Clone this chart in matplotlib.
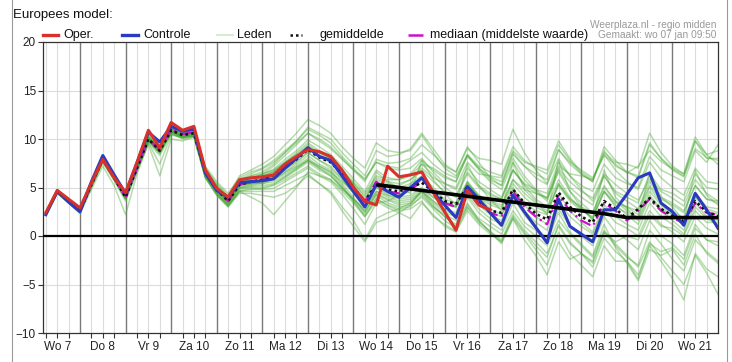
import matplotlib.pyplot as plt
import numpy as np
from matplotlib.lines import Line2D

plt.rcParams["font.family"] = ["Liberation Sans", "DejaVu Sans"]

# hours from Wo 7 00:00, one value every 6 hours
HOURS = list(range(6, 361, 6))
DAY_LABELS = ["Wo 7", "Do 8", "Vr 9", "Za 10", "Zo 11", "Ma 12", "Di 13", "Wo 14",
              "Do 15", "Vr 16", "Za 17", "Zo 18", "Ma 19", "Di 20", "Wo 21"]

# operationele run (tot +240 u)
oper = [2.4, 4.7, 3.8,
        2.9, 5.5, 7.9, 6.0,  4.5, 7.6, 10.9, 9.1,  11.7, 10.9, 11.3, 6.8,
        4.9, 4.0, 5.8, 6.0,  6.1, 6.3, 7.4, 8.2,  8.9, 8.7, 8.2, 6.8,
        5.0, 3.6, 3.2, 7.2,  6.1, 6.3, 6.6, 4.5,  2.5, 0.6, 4.7, 3.2,
        2.7]

controle = [2.2, 4.6, 3.5,
            2.5, 5.6, 8.3, 6.3,  4.4, 7.5, 10.7, 9.7,  11.3, 10.8, 11.0, 6.5,
            4.7, 4.0, 5.5, 5.6,  5.7, 5.9, 7.0, 8.0,  9.1, 8.2, 7.8, 6.2,
            4.6, 3.0, 5.3, 4.6,  4.0, 5.0, 6.0, 4.5,  3.2, 1.9, 5.1, 3.8,
            2.4, 1.1, 4.2, 2.5,  0.9, -0.7, 3.8, 1.0,  0.2, -0.6, 2.7, 2.7,
            4.3, 6.0, 6.5, 3.4,  2.5, 1.1, 4.4, 2.7,  0.8]

gemiddelde = [2.3, 4.6, 3.6,
              2.6, 5.3, 7.9, 6.0,  4.0, 7.0, 10.0, 8.8,  10.9, 10.4, 10.6, 6.5,
              4.8, 3.6, 5.3, 5.6,  5.8, 6.3, 7.1, 7.9,  8.9, 8.1, 7.6, 6.4,
              5.0, 3.6, 5.3, 4.8,  4.6, 5.0, 5.5, 4.6,  3.6, 3.3, 5.1, 3.6,
              2.6, 2.4, 4.8, 3.4,  2.3, 1.7, 4.5, 3.0,  2.0, 1.4, 3.6, 2.8,
              1.8, 2.8, 3.9, 2.8,  2.1, 1.5, 3.6, 2.5,  2.0]

mediaan = [2.3, 4.6, 3.6,
           2.6, 5.3, 7.9, 6.0,  4.0, 7.0, 10.0, 8.9,  11.0, 10.5, 10.7, 6.5,
           4.8, 3.6, 5.3, 5.6,  5.8, 6.3, 7.2, 8.1,  9.1, 8.2, 7.7, 6.4,
           4.9, 3.5, 5.6, 4.6,  4.4, 4.8, 5.6, 4.6,  3.4, 3.0, 5.0, 3.4,
           2.4, 2.0, 4.6, 3.0,  2.0, 1.2, 4.2, 2.6,  1.6, 1.0, 3.4, 2.6,
           1.6, 2.6, 3.8, 2.6,  1.9, 1.3, 3.4, 2.4,  2.2]

trend_hours = [180, 204, 228, 252, 276, 300, 312, 336, 360]
trend = [5.3, 4.7, 4.1, 3.5, 2.9, 2.3, 1.9, 1.9, 1.9]

leden = [
    [2.5, 4.8, 3.7, 2.8, 5.6, 8.2, 6.3, 4.3, 7.3, 10.3, 9.2, 11.3, 10.8, 11.0, 7.0,
     5.2, 4.1, 5.8, 6.4, 6.9, 7.6, 8.6, 9.6, 10.6, 9.8, 9.0, 7.9, 6.8, 5.9, 7.6, 7.2,
     7.0, 7.8, 8.6, 7.4, 6.5, 6.0, 8.2, 7.0, 6.1, 5.6, 8.4, 7.2, 6.4, 5.8, 8.9, 7.6,
     6.8, 6.0, 8.3, 7.4, 6.5, 7.2, 8.8, 7.7, 6.9, 6.2, 9.0, 8.1, 7.8],
    [2.1, 4.4, 3.4, 2.4, 5.0, 7.6, 5.7, 3.6, 6.6, 9.6, 8.3, 10.5, 10.1, 10.3, 6.0,
     4.2, 3.0, 4.6, 4.8, 4.9, 5.2, 5.8, 6.5, 7.2, 6.4, 5.8, 4.6, 3.4, 2.0, 3.6, 2.9,
     2.4, 1.8, 3.4, 2.2, 1.0, 0.4, 2.6, 1.2, 0.2, -0.6, 2.0, 0.4, -1.0, -2.2, 1.2, -0.6,
     -1.8, -2.8, 0.4, -1.0, -2.2, -3.0, 0.6, -0.8, -2.4, -3.6, -0.4, -1.6, -2.6],
    [2.4, 4.7, 3.7, 2.7, 5.4, 8.0, 6.1, 4.1, 7.2, 10.2, 9.0, 11.1, 10.6, 10.8, 6.7,
     5.0, 3.9, 5.6, 6.0, 6.3, 6.9, 7.9, 8.8, 9.9, 9.2, 8.4, 7.2, 5.9, 4.6, 6.8, 6.0,
     5.8, 6.2, 7.4, 6.3, 5.0, 4.2, 6.6, 5.2, 4.4, 3.8, 6.8, 5.3, 4.4, 3.9, 7.0, 5.6,
     4.6, 3.9, 6.4, 5.3, 4.4, 3.7, 5.9, 4.6, 3.9, 3.1, 5.8, 4.4, 3.6],
    [2.2, 4.5, 3.5, 2.5, 5.2, 7.7, 5.8, 3.8, 6.8, 9.8, 8.5, 10.7, 10.2, 10.3, 6.1,
     4.3, 3.1, 4.7, 4.9, 4.8, 4.9, 5.6, 6.3, 7.0, 6.2, 5.6, 4.3, 2.8, 1.2, 3.4, 3.6,
     4.2, 5.3, 7.4, 7.0, 6.2, 5.6, 8.3, 7.0, 5.8, 5.2, 8.6, 7.2, 6.0, 5.3, 8.9, 7.4,
     6.4, 5.6, 9.2, 7.8, 6.6, 6.0, 9.4, 8.0, 6.8, 6.1, 9.8, 8.4, 8.8],
    [2.3, 4.6, 3.6, 2.6, 5.3, 7.9, 6.0, 3.9, 6.9, 9.9, 8.6, 10.8, 10.2, 10.4, 6.3,
     4.6, 3.4, 5.0, 5.3, 5.5, 5.9, 6.6, 7.4, 8.3, 7.4, 6.8, 5.4, 4.0, 2.5, 4.3, 3.7,
     3.2, 3.4, 4.4, 3.0, 2.0, 1.0, 3.2, 1.8, 1.0, 0.2, 2.6, 1.0, 0.0, -1.0, 1.6, 0.2,
     -1.0, -2.2, 0.6, -0.8, -2.0, -3.2, -0.6, -2.2, -3.6, -5.0, -2.0, -3.8, -6.0],
    [2.2, 4.5, 3.4, 2.4, 5.1, 7.7, 5.9, 4.2, 7.3, 10.2, 9.1, 11.2, 10.7, 10.9, 6.9,
     5.1, 3.8, 5.4, 5.5, 5.4, 5.8, 6.4, 7.1, 7.8, 7.0, 6.2, 4.9, 3.6, 2.2, 3.9, 3.1,
     2.6, 2.8, 3.6, 2.0, 1.2, 0.5, 2.9, 1.4, 0.5, -0.4, 2.2, 0.6, -0.6, -1.8, 1.0, -0.8,
     -1.8, -3.2, -0.2, -1.6, -2.6, -4.0, -1.0, -2.6, -4.4, -6.6, -1.8, -3.4, -4.2],
    [2.4, 4.6, 3.6, 2.7, 5.3, 7.8, 5.9, 4.1, 7.1, 10.1, 8.9, 11.0, 10.5, 10.7, 6.6,
     4.9, 3.7, 5.4, 5.9, 6.4, 7.2, 8.3, 9.4, 10.6, 10.0, 9.2, 8.0, 6.8, 5.6, 7.9, 7.5,
     7.6, 8.0, 9.4, 8.4, 7.2, 6.6, 9.0, 8.0, 7.8, 7.4, 11.0, 8.6, 6.8, 5.4, 8.0, 6.2,
     4.8, 3.6, 6.2, 4.4, 3.6, 2.8, 5.6, 4.0, 3.4, 2.6, 5.2, 3.8, 3.4],
    [2.2, 4.6, 3.5, 2.6, 5.2, 7.8, 5.9, 3.9, 6.9, 9.9, 8.7, 10.8, 10.3, 10.5, 6.4,
     4.7, 3.5, 5.2, 5.4, 5.6, 6.0, 6.8, 7.6, 8.6, 7.8, 7.0, 5.8, 4.4, 3.2, 5.0, 4.4,
     4.2, 4.6, 5.8, 4.8, 3.6, 3.0, 5.4, 4.2, 3.4, 3.0, 5.8, 4.8, 4.4, 4.0, 7.2, 6.4,
     6.2, 5.8, 8.6, 7.6, 7.4, 7.0, 10.6, 8.6, 7.2, 6.4, 10.2, 8.4, 7.4],
    [2.3, 4.5, 3.5, 2.5, 5.2, 7.9, 6.1, 4.1, 7.0, 9.9, 8.7, 10.8, 10.4, 10.5, 6.2,
     4.4, 3.2, 4.9, 5.1, 5.2, 5.4, 6.0, 6.8, 7.6, 6.8, 6.2, 5.0, 3.8, 2.4, 4.2, 3.4,
     3.0, 3.2, 4.0, 2.8, 1.6, 0.8, 3.0, 1.6, 0.4, -0.6, 1.8, 0.2, -1.4, -3.0, 0.4, -1.8,
     -3.0, -4.2, -1.0, -2.6, -2.6, -4.4, -0.8, -1.6, -1.2, -2.4, 0.8, -0.4, -1.0],
    [2.4, 4.7, 3.7, 2.7, 5.4, 7.9, 6.0, 3.9, 6.8, 9.4, 6.2, 10.0, 9.8, 10.2, 6.0,
     4.6, 3.6, 5.4, 6.2, 6.4, 6.8, 7.6, 8.6, 9.6, 8.8, 8.0, 6.8, 5.4, 4.0, 5.8, 5.4,
     5.0, 5.4, 6.2, 5.0, 3.8, 3.4, 5.6, 4.0, 2.8, 2.2, 5.0, 3.2, 2.0, 1.2, 4.4, 2.6,
     1.4, 0.4, 3.2, 2.0, 1.2, 0.6, 3.4, 2.0, 1.2, 0.2, 3.0, 1.8, 1.2],
    [2.2, 4.4, 3.4, 2.3, 4.8, 7.2, 5.2, 2.2, 6.4, 9.6, 7.4, 10.4, 10.2, 10.8, 7.2,
     5.6, 4.4, 6.0, 6.6, 7.0, 7.8, 8.8, 9.8, 11.0, 10.4, 9.6, 8.2, 7.0, 5.8, 7.6, 7.0,
     6.8, 7.0, 8.0, 6.6, 5.4, 4.8, 7.0, 5.6, 4.8, 4.0, 6.8, 5.2, 3.8, 3.0, 5.8, 4.0,
     2.8, 1.8, 4.6, 3.0, 2.4, 1.6, 4.2, 2.8, 2.2, 1.2, 4.0, 2.6, 2.2],
    [2.3, 4.6, 3.6, 2.6, 5.3, 7.9, 6.0, 4.0, 7.0, 10.0, 8.8, 10.6, 10.0, 10.2, 6.0,
     4.2, 3.0, 4.4, 4.4, 4.2, 4.0, 4.4, 5.2, 6.2, 5.4, 4.6, 3.0, 1.6, -0.4, 1.8, 2.4,
     2.8, 3.4, 4.6, 3.6, 2.6, 2.2, 4.6, 3.2, 2.4, 2.0, 4.8, 3.4, 2.6, 2.2, 5.4, 3.8,
     3.0, 2.4, 5.0, 3.6, 2.6, 1.8, 4.6, 3.2, 2.2, 1.4, 4.2, 2.8, 2.4],
    [2.3, 4.6, 3.6, 2.6, 5.2, 7.8, 5.9, 3.9, 7.0, 10.0, 8.8, 10.8, 10.2, 10.4, 6.2,
     4.4, 3.2, 4.6, 4.0, 3.4, 2.2, 3.6, 5.0, 6.6, 6.2, 5.8, 4.8, 3.8, 2.8, 4.6, 4.2,
     4.0, 4.2, 5.0, 4.0, 3.2, 3.0, 5.4, 4.0, 3.2, 2.8, 5.4, 4.0, 3.0, 2.4, 5.2, 3.6,
     2.6, 2.0, 4.6, 3.4, 3.0, 2.6, 5.2, 3.8, 3.2, 2.4, 5.2, 3.8, 3.6],
    [2.4, 4.8, 3.8, 2.8, 5.6, 8.2, 6.2, 4.2, 7.2, 10.4, 9.2, 11.4, 10.8, 11.0, 7.0,
     5.4, 4.2, 6.2, 6.8, 7.4, 8.2, 9.4, 10.6, 12.0, 11.4, 10.6, 9.2, 8.0, 7.0, 9.6, 8.8,
     8.6, 8.8, 10.4, 8.6, 7.0, 6.2, 8.4, 6.8, 5.6, 4.8, 7.6, 5.8, 4.6, 3.6, 6.8, 5.0,
     4.0, 3.2, 6.2, 4.6, 4.0, 3.4, 6.4, 4.8, 4.4, 3.6, 6.4, 5.0, 4.8],
    [2.2, 4.5, 3.5, 2.5, 5.2, 7.8, 5.9, 3.9, 6.9, 9.8, 8.6, 10.7, 10.2, 10.4, 6.4,
     4.7, 3.5, 5.2, 5.5, 5.7, 6.1, 6.9, 7.7, 8.6, 7.8, 7.2, 5.9, 4.4, 3.0, 4.6, 4.0,
     3.6, 3.8, 4.6, 3.4, 2.4, 2.0, 4.2, 2.8, 1.8, 1.2, 4.0, 2.2, 0.8, -0.2, 2.8, 1.0,
     0.0, -1.0, 2.0, 0.4, -0.4, -1.4, 1.6, 0.0, -0.8, -2.0, 1.2, -0.4, -0.6],
    [2.3, 4.7, 3.6, 2.6, 5.4, 8.0, 6.1, 4.1, 7.1, 10.1, 8.9, 11.0, 10.5, 10.7, 6.6,
     5.0, 3.6, 5.6, 5.8, 6.0, 6.6, 7.6, 8.4, 9.4, 8.6, 8.0, 6.6, 5.2, 3.4, 6.6, 5.6,
     5.0, 4.4, 7.8, 5.8, 4.4, 3.2, 7.4, 5.2, 3.8, 2.6, 7.6, 4.8, 3.6, 2.2, 7.8, 4.6,
     3.0, 1.6, 6.8, 4.0, 2.8, 1.8, 6.6, 4.0, 3.0, 1.6, 6.8, 4.2, 3.2],
    [2.3, 4.5, 3.5, 2.6, 5.2, 7.8, 6.0, 4.0, 6.9, 9.9, 8.7, 10.9, 10.4, 10.6, 6.5,
     4.8, 3.6, 5.2, 5.4, 5.6, 5.8, 6.6, 7.2, 8.0, 7.2, 6.6, 5.2, 3.6, 2.0, 3.8, 3.2,
     2.8, 3.0, 4.2, 3.0, 2.2, 1.6, 4.0, 2.4, 1.4, 0.6, 3.4, 1.4, 0.6, -0.6, 2.4, 0.4,
     -0.8, -2.0, 1.2, -1.2, -2.8, -4.6, -1.4, -2.0, -1.4, -3.0, 0.2, -1.8, -2.8],
    [2.4, 4.6, 3.7, 2.7, 5.4, 8.0, 6.1, 4.0, 7.1, 10.1, 8.9, 11.0, 10.5, 10.6, 6.6,
     4.9, 3.7, 5.4, 5.8, 6.1, 6.7, 7.6, 8.4, 9.2, 8.4, 7.8, 6.6, 5.4, 4.2, 6.0, 5.6,
     5.4, 5.8, 6.8, 5.6, 4.6, 4.0, 6.4, 5.0, 4.2, 3.8, 6.8, 5.4, 4.8, 4.4, 7.6, 6.2,
     5.2, 4.6, 7.4, 6.0, 5.4, 5.0, 8.2, 6.8, 6.2, 5.6, 8.8, 7.6, 9.4],
    [2.2, 4.6, 3.5, 2.6, 5.3, 7.9, 6.0, 4.0, 7.0, 10.0, 8.7, 10.8, 10.3, 10.5, 6.4,
     4.7, 3.4, 5.0, 5.2, 5.4, 5.6, 6.2, 7.0, 7.8, 7.0, 6.4, 5.0, 3.8, 2.6, 4.4, 3.8,
     3.4, 3.6, 4.6, 3.2, 2.0, 1.2, 3.4, 1.6, 0.4, -0.8, 1.8, -0.4, -2.0, -4.0, -0.6, -2.4,
     -1.8, -2.6, 0.4, -0.6, 0.0, -0.4, 2.2, 1.0, 0.8, 0.0, 2.6, 1.4, 1.4],
    [2.3, 4.6, 3.6, 2.6, 5.3, 7.9, 6.0, 4.0, 7.0, 10.0, 8.8, 10.9, 10.4, 10.6, 6.5,
     4.8, 3.6, 5.3, 5.6, 5.8, 6.4, 7.2, 8.0, 9.0, 8.2, 7.6, 6.4, 5.0, 3.8, 5.6, 5.2,
     5.2, 5.8, 7.0, 6.0, 5.4, 5.0, 7.6, 6.4, 6.2, 6.0, 8.8, 7.6, 7.2, 6.8, 9.8, 8.0,
     6.6, 5.8, 8.4, 6.8, 5.6, 4.8, 7.6, 6.0, 5.0, 4.2, 7.0, 5.6, 5.4],
    [2.4, 4.6, 3.6, 2.5, 5.1, 7.6, 5.8, 3.8, 6.9, 9.8, 8.6, 10.6, 10.1, 10.3, 6.3,
     4.5, 3.3, 4.9, 5.0, 5.0, 5.3, 6.1, 6.9, 7.8, 7.2, 6.6, 5.6, 4.6, 3.4, 5.0, 4.2,
     3.8, 4.0, 4.8, 3.6, 2.8, 2.4, 4.6, 3.2, 2.2, 1.6, 4.2, 2.6, 1.4, 0.6, 3.6, 2.0,
     1.0, 0.2, 2.8, 1.4, 0.8, 0.0, 2.6, 1.2, 0.4, -0.6, 2.0, 0.8, 0.2],
    [2.3, 4.7, 3.7, 2.7, 5.5, 8.1, 6.1, 4.1, 7.2, 10.2, 9.0, 11.1, 10.6, 10.8, 6.8,
     5.2, 4.0, 5.8, 6.2, 6.6, 7.4, 8.6, 9.8, 11.2, 10.6, 10.0, 8.6, 7.4, 6.2, 8.8, 8.2,
     8.4, 9.0, 10.6, 9.0, 7.4, 6.6, 9.2, 7.6, 6.0, 5.2, 8.0, 6.2, 4.8, 3.8, 6.6, 4.6,
     3.4, 2.4, 5.2, 3.6, 3.0, 2.2, 5.0, 3.4, 2.6, 1.8, 4.4, 3.0, 2.8],
    [2.3, 4.6, 3.6, 2.6, 5.2, 7.8, 6.0, 4.0, 6.9, 9.9, 8.6, 10.7, 10.2, 10.4, 6.2,
     4.4, 3.2, 4.6, 4.6, 4.6, 4.6, 5.2, 5.8, 6.4, 5.4, 4.4, 2.6, 1.0, -0.6, 1.4, 1.8,
     2.4, 3.2, 4.8, 4.0, 3.4, 3.0, 5.6, 4.2, 3.6, 3.2, 5.8, 4.4, 3.4, 2.6, 5.4, 3.8,
     2.8, 1.8, 4.6, 3.2, 2.2, 1.2, 4.0, 2.6, 1.6, 0.6, 3.4, 2.0, 1.6],
    [2.2, 4.5, 3.5, 2.5, 5.2, 7.8, 5.9, 3.9, 7.0, 10.0, 8.8, 10.9, 10.5, 10.7, 6.6,
     5.0, 3.8, 5.6, 6.0, 6.2, 6.6, 7.4, 8.2, 9.2, 8.6, 8.0, 6.8, 5.6, 4.4, 6.2, 5.8,
     5.8, 6.4, 7.8, 6.8, 6.0, 5.6, 8.4, 7.2, 6.6, 6.2, 9.2, 7.8, 7.0, 6.4, 9.4, 7.8,
     6.4, 5.6, 8.8, 7.2, 6.6, 6.2, 9.6, 8.0, 7.0, 6.4, 9.8, 8.0, 8.0],
]

RED = "#d8312b"
BLUE = "#2a3bbf"
GREEN = "#46a832"
MAGENTA = "#cc10cc"
W, H = 732, 362


def fx(px):
    return px / W


def fy(py):
    return 1 - py / H


def main() -> None:
    fig = plt.figure(figsize=(W / 100, H / 100), dpi=100)
    fig.patch.set_facecolor("white")
    ax = fig.add_axes([fx(43), fy(333), fx(718) - fx(43), fy(42) - fy(333)])

    hours = np.array(HOURS)

    # rasterlijnen
    for h in range(6, 360, 6):
        if h % 24 == 0:
            ax.axvline(h, color="#7a7a7a", lw=1.0, zorder=1)
        else:
            ax.axvline(h, color="#dcdcdc", lw=0.8, zorder=0)
    for v in range(-5, 20, 5):
        ax.axhline(v, color="#dcdcdc", lw=0.8, zorder=0)

    # ensembleleden
    for lid in leden:
        ax.plot(hours, lid, color=GREEN, lw=1.1, alpha=0.4, zorder=2)

    ax.axhline(0, color="black", lw=1.6, zorder=3)

    ax.plot(hours, mediaan, color=MAGENTA, lw=1.6, ls=(0, (5, 2, 1, 2)), zorder=4)
    ax.plot(hours, gemiddelde, color="#111111", lw=1.9, ls=(0, (1, 1.2)), zorder=5)
    ax.plot(hours, controle, color=BLUE, lw=2.2, zorder=6)
    ax.plot(hours[:len(oper)], oper, color=RED, lw=2.2, zorder=7)
    ax.plot(trend_hours, trend, color="black", lw=2.6, zorder=8, solid_capstyle="butt")

    ax.set_xlim(4.5, 360)
    ax.set_ylim(-10, 20)
    ax.set_yticks(range(-10, 21, 5))
    ax.set_xticks([12 + 24 * i for i in range(len(DAY_LABELS))])
    ax.set_xticklabels(DAY_LABELS)
    ax.set_xticks([h for h in range(6, 360, 6) if h % 12 == 6], minor=True)
    ax.tick_params(axis="both", which="both", direction="out", length=3.5,
                   width=0.8, color="#333333", labelsize=8.5, labelcolor="#222222")
    ax.tick_params(axis="x", pad=2)
    ax.tick_params(axis="y", pad=1.5)
    for s in ax.spines.values():
        s.set_color("#333333")
        s.set_linewidth(0.9)

    # kopteksten
    fig.text(fx(13), fy(15), "Europees model:", fontsize=9.5, color="#111111", va="center")
    fig.text(fx(716), fy(25), "Weerplaza.nl - regio midden", fontsize=7.3,
             color="#9a9a9a", ha="right", va="center")
    fig.text(fx(716), fy(34.5), "Gemaakt: wo 07 jan 09:50", fontsize=7.3,
             color="#9a9a9a", ha="right", va="center")

    # legenda
    ly = fy(35)
    items = [
        (43, 58, 63, "Oper.", dict(color=RED, lw=2.4)),
        (122, 138, 143, "Controle", dict(color=BLUE, lw=2.4)),
        (217, 233, 237, "Leden", dict(color="#cfe8c4", lw=1.2)),
        (290, 302, 319, "gemiddelde", dict(color="#111111", lw=1.8, ls=(0, (1, 1.2)))),
        (408, 428, 430, "mediaan (middelste waarde)", dict(color=MAGENTA, lw=1.8, ls=(0, (6, 2, 1, 2)))),
    ]
    for x0, x1, xt, label, style in items:
        fig.add_artist(Line2D([fx(x0), fx(x1)], [ly, ly], transform=fig.transFigure, **style))
        fig.text(fx(xt), ly, label, fontsize=9, color="#111111", va="center")

    # kader
    for xb in (12, 727):
        fig.add_artist(Line2D([fx(xb), fx(xb)], [0, 1], transform=fig.transFigure,
                              color="#9a9a9a", lw=0.8))

    fig.savefig("out.png", dpi=100)


if __name__ == "__main__":
    main()
